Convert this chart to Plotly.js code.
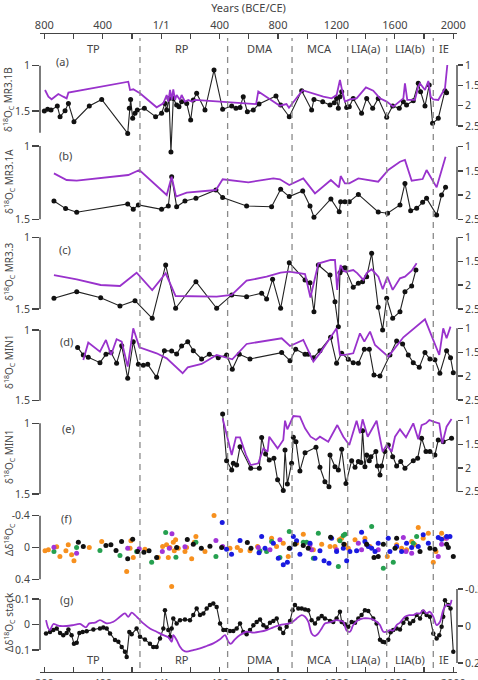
<!DOCTYPE html>
<html><head><meta charset="utf-8">
<script src="https://cdn.plot.ly/plotly-3.0.1.min.js"></script>
<style>html,body{margin:0;padding:0;background:#fff}#chart{width:478px;height:680px}</style>
</head><body><div id="chart"></div>
<script>
// ---------- DATA ----------
const xTickVals = [-800,-400,0,400,800,1200,1600,2000];
const xTickText = ['800','400','1/1','400','800','1200','1600','2000'];
const xMinorVals = [-600,-200,200,600,1000,1400,1800];
const periodNames = ['TP','RP','DMA','MCA','LIA(a)','LIA(b)','IE'];
const periodCenters = [-464,140,677,1087,1402,1703,1938];
const periodBounds = [-145,455,896,1277,1544,1863];

// (a) MR3.1B
const aBlackYear = [-800,-777,-754,-711,-692,-658,-635,-597,-492,-407,-229,-218,-209,-195,-179,-163,-115,-38,3,26,38,54,67,83,106,122,140,175,202,220,243,300,362,421,483,512,540,562,590,631,670,786,818,877,962,1030,1046,1106,1156,1185,1201,1213,1224,1236,1270,1288,1315,1372,1407,1448,1486,1544,1585,1630,1658,1680,1726,1760,1776,1806,1835,1858,1897,1943,1954];
const aBlackVal = [1.50,1.48,1.49,1.445,1.563,1.497,1.416,1.618,1.445,1.372,1.747,1.471,1.372,1.581,1.526,1.489,1.471,1.563,1.526,1.416,1.489,1.361,1.953,1.361,1.434,1.453,1.397,1.416,1.60,1.379,1.305,1.489,1.048,1.482,1.445,1.471,1.46,1.342,1.508,1.489,1.423,1.335,1.434,1.563,1.276,1.489,1.372,1.397,1.434,1.408,1.361,1.471,1.342,1.287,1.46,1.453,1.361,1.526,1.361,1.471,1.361,1.57,1.445,1.471,1.397,1.434,1.386,1.195,1.287,1.445,1.214,1.636,1.581,1.276,1.298];
const aPurpleYear = [-795,-772,-750,-704,-670,-647,-635,-225,-213,-191,-145,-31,15,38,49,61,72,83,95,106,129,140,163,186,209,232,650,665,812,858,875,968,1110,1167,1201,1224,1236,1258,1293,1338,1402,1452,1498,1544,1589,1630,1658,1669,1685,1737,1760,1772,1806,1829,1845,1863,1897,1943,1959];
const aPurpleVal = [1.615,1.779,1.844,1.713,1.779,1.82,1.68,1.41,1.615,1.598,1.697,2.04,1.943,1.738,1.90,1.615,1.86,1.598,1.86,1.738,1.86,1.738,1.90,1.86,1.90,1.86,1.96,1.65,2.0,1.96,2.05,1.62,1.78,1.82,1.74,1.37,1.574,1.90,1.844,1.82,1.55,1.631,1.82,1.90,2.025,1.90,1.82,1.451,1.86,1.86,1.533,1.451,1.615,1.393,1.779,1.844,1.86,1.574,1.0];

// (b) MR3.1A
const bBlackYear = [-734,-654,-578,-229,-191,-156,3,49,72,106,163,238,375,421,585,756,818,877,969,1019,1046,1162,1219,1229,1258,1288,1350,1486,1550,1635,1669,1708,1749,1790,1817,1886,1920,1947];
const bBlackVal = [1.375,1.427,1.452,1.395,1.432,1.402,1.432,1.409,1.209,1.414,1.375,1.357,1.30,1.352,1.409,1.414,1.295,1.345,1.307,1.409,1.486,1.361,1.448,1.38,1.38,1.38,1.33,1.45,1.459,1.402,1.255,1.441,1.425,1.384,1.357,1.47,1.334,1.282];
const bPurpleYear = [-734,-647,-578,-225,-149,38,72,102,175,375,421,597,768,813,877,973,1053,1162,1217,1229,1258,1288,1350,1486,1555,1635,1669,1715,1790,1817,1886,1947];
const bPurpleVal = [1.551,1.688,1.702,1.585,1.482,1.998,1.619,2.032,1.95,1.895,1.674,1.736,1.654,1.674,1.791,1.654,1.964,1.688,1.84,1.606,1.757,1.757,1.654,1.723,1.482,1.31,1.275,1.702,1.668,1.482,1.84,1.206];

// (c) MR3.3
const cBlackYear = [-734,-578,-414,-282,-179,-61,31,99,238,380,483,585,688,722,763,818,877,985,1019,1046,1076,1156,1190,1213,1224,1236,1247,1258,1315,1350,1379,1407,1441,1486,1516,1544,1585,1635,1669,1715,1744];
const cBlackVal = [1.425,1.379,1.421,1.479,1.442,1.565,1.193,1.495,1.31,1.495,1.402,1.414,1.39,1.43,1.293,1.495,1.177,1.298,1.317,1.519,1.193,1.263,1.45,1.623,1.247,1.228,1.216,1.212,1.349,1.321,1.31,1.275,1.112,1.488,1.646,1.425,1.565,1.519,1.379,1.34,1.228];
const cPurpleYear = [-734,-578,-414,-282,-168,-61,31,99,380,483,585,722,818,877,985,1022,1076,1160,1190,1205,1215,1229,1247,1265,1315,1342,1384,1407,1441,1487,1517,1548,1585,1635,1669,1715,1749];
const cPurpleVal = [1.789,1.879,1.998,2.019,1.741,2.103,1.753,2.228,2.243,2.207,1.908,1.824,1.741,1.72,1.768,2.26,1.55,1.475,1.475,2.1,1.78,1.58,1.70,1.72,1.684,1.75,1.89,1.75,1.67,1.824,2.088,1.824,2.10,1.858,1.824,1.70,1.544];

// (d) MIN1
const dBlackYear = [-572,-533,-499,-419,-378,-343,-305,-270,-229,-191,-156,-122,-92,-31,22,72,106,140,182,220,277,330,391,448,487,535,608,825,882,921,985,1007,1042,1087,1160,1201,1236,1281,1315,1350,1391,1425,1457,1498,1566,1612,1653,1692,1726,1767,1806,1840,1874,1908,1954,1981,2000];
const dBlackVal = [1.123,1.177,1.193,1.231,1.172,1.16,1.236,1.111,1.342,1.083,1.243,1.25,1.243,1.335,1.146,1.149,1.17,1.113,1.083,1.146,1.205,1.172,1.196,1.177,1.278,1.172,1.205,1.16,1.217,1.137,1.172,1.172,1.196,1.146,1.052,1.235,1.165,1.207,1.231,1.236,1.137,1.137,1.318,1.325,1.177,1.078,1.099,1.177,1.231,1.264,1.16,1.205,1.21,1.306,1.146,1.196,1.302];
const dPurpleYear = [-533,-499,-419,-378,-343,-305,-270,-229,-191,-149,-31,38,147,182,277,380,487,585,825,882,973,1042,1087,1201,1224,1258,1315,1361,1391,1430,1464,1555,1658,1806,1904,1931,1954,1981];
const dPurpleVal = [1.662,1.30,1.488,1.244,1.558,1.23,1.279,1.802,1.0,1.397,1.523,1.628,1.941,1.816,1.746,1.558,1.649,1.328,1.209,1.37,1.244,1.697,1.523,1.0,1.558,1.558,1.523,1.105,1.279,1.07,1.349,1.593,1.188,0.812,1.558,1.0,1.209,0.965];

// (e) MIN1
const eBlackYear = [421,448,483,494,517,540,613,672,688,715,740,772,797,836,848,864,893,905,923,950,985,1060,1087,1121,1149,1156,1190,1213,1236,1265,1304,1327,1350,1368,1379,1395,1407,1425,1436,1470,1480,1498,1509,1532,1555,1585,1612,1640,1669,1726,1756,1783,1813,1840,1874,1897,1931,1988];
const eBlackVal = [0.934,1.264,1.33,1.283,1.295,1.165,1.318,1.318,1.101,1.217,1.259,1.248,1.40,1.476,1.189,1.429,1.283,1.099,1.13,1.337,1.208,1.17,1.311,1.413,1.448,1.224,1.307,1.33,1.184,1.425,1.264,1.311,1.271,1.278,1.052,1.307,1.224,1.264,1.236,1.20,1.302,1.366,1.302,1.20,1.153,1.236,1.302,1.271,1.318,1.264,1.248,1.106,1.20,1.20,1.224,1.118,1.13,1.106];
const ePurpleYear = [421,483,512,540,581,613,665,700,729,740,797,836,848,864,905,950,985,1023,1060,1087,1144,1206,1247,1288,1338,1361,1379,1414,1475,1516,1544,1578,1601,1635,1676,1726,1760,1783,1813,1836,1863,1904,1925,1954,1988];
const ePurpleVal = [0.951,1.725,1.352,1.352,1.725,1.937,1.901,1.585,1.655,1.338,1.585,1.408,1.0,1.183,0.901,0.915,1.162,1.338,1.408,1.338,1.444,1.092,1.338,1.514,1.0,1.268,0.972,1.338,1.0,1.655,1.514,1.655,1.338,1.183,1.352,1.056,1.394,1.092,1.056,0.986,1.021,1.056,1.479,1.127,0.965];

// (f) anomalies by record
const fOrangeYear = [-795,-772,-715,-693,-652,-636,-613,-597,-492,-407,-236,-213,-207,-191,-111,-20,10,37,49,60,72,83,90,99,117,163,174,209,227,238,300,362,471,521,544,608,660,756,790,836,870,927,973,1014,1042,1099,1156,1190,1219,1235,1258,1281,1327,1395,1429,1548,1612,1646,1680,1715,1737,1760,1794,1829,1863,1881,1920,1943];
const fOrangeVal = [0.042,0.029,-0.008,0.113,0.042,-0.034,0.092,0.168,0,-0.075,0.302,0.008,-0.084,0.126,0.021,0.126,-0.013,-0.034,0.126,0,0.49,-0.067,0.042,-0.096,0.008,0.05,0,0.143,-0.067,-0.138,0.05,-0.403,0.008,0,0.038,0.042,-0.013,-0.117,-0.013,-0.055,0.113,-0.055,-0.168,0,0.029,-0.042,-0.013,-0.013,-0.096,-0.117,-0.034,0.008,-0.096,-0.117,-0.013,0.113,-0.034,0.008,0.029,-0.075,-0.034,-0.252,-0.117,-0.18,0.184,0.05,-0.18,-0.117];
const fGreenYear = [-734,-579,-419,-282,-168,-65,31,101,238,375,676,722,756,813,877,973,996,1042,1076,1213,1224,1247,1258,1441,1521,1589,1726,1749];
const fGreenVal = [0.05,0,0.038,0.101,0.05,0.184,-0.189,0.122,-0.067,0.113,0.042,0.05,-0.075,0.126,-0.201,-0.067,-0.067,0.134,-0.18,0.239,-0.084,-0.151,-0.168,-0.264,0.26,0.184,-0.055,-0.138];
const fPurpleYear = [-734,-579,-229,-150,8,56,74,163,375,421,665,745,813,1019,1030,1201,1350,1372,1407,1486,1658,1676,1715,1897,1920,1954];
const fPurpleVal = [-0.004,0.071,0.008,0.017,0.05,0.008,-0.172,-0.008,-0.088,-0.013,0,0.029,-0.096,-0.034,0.029,0.029,-0.055,0.029,-0.034,0.029,-0.126,0.05,0.071,0.113,-0.042,-0.117];
const fBlueYear = [418,448,482,540,670,688,711,768,802,836,864,882,905,927,950,1019,1053,1087,1115,1149,1167,1201,1247,1270,1292,1338,1372,1395,1418,1441,1464,1486,1555,1566,1612,1646,1680,1715,1760,1794,1829,1897,1920,1954,1977];
const fBlueVal = [-0.314,0.021,0.084,-0.088,0.067,-0.138,0.008,-0.055,0.134,0.218,0.184,0.008,-0.138,-0.084,0.084,-0.055,0.134,0.042,0.168,0.197,-0.117,0.05,0.008,0.168,0.05,0.042,-0.193,-0.075,-0.013,0.008,0.05,-0.055,-0.117,0.05,-0.013,0.05,-0.055,0,-0.013,-0.159,-0.055,-0.126,-0.105,-0.138,-0.138];
const fBlackYear = [-567,-533,-378,-344,-309,-271,-229,-195,-161,-118,-83,-31,106,179,220,275,334,414,590,615,877,916,973,1007,1160,1251,1407,1457,1486,1521,1601,1612,1772,1840,1874,1954,1966,2000];
const fBlackVal = [-0.067,-0.013,-0.025,-0.034,0.038,-0.075,0.143,-0.105,0.05,0.059,0.042,0.126,0,-0.101,-0.042,0.008,-0.017,0,-0.063,0.008,0.008,-0.042,-0.025,0.008,-0.13,-0.042,-0.042,0.126,0.113,-0.042,0.008,-0.117,0.05,0.008,0.021,-0.042,0,0.113];

// (g) stack
const gBlackYear = [-788,-761,-738,-715,-692,-670,-647,-635,-613,-597,
 -578,-560,-537,-510,-464,-419,-396,-373,-350,-316,
 -293,-270,-248,-236,-218,-202,-168,-145,-111,-77,
 -54,-31,-8,15,26,49,61,72,83,106,
 129,163,197,220,243,266,289,312,334,357,
 380,403,426,448,471,494,517,540,562,585,
 608,631,654,677,700,722,745,768,791,813,
 836,859,882,900,916,939,962,985,1007,1030,
 1053,1076,1099,1121,1156,1178,1201,1224,1236,1258,
 1281,1304,1327,1350,1372,1395,1418,1452,1475,1498,
 1516,1532,1555,1571,1589,1612,1635,1658,1680,1703,
 1726,1749,1772,1794,1817,1840,1863,1886,1904,1920,
 1931,1943,1966,1981,2000];
const gBlackVal = [0.035,0.029,0.022,0.016,0.033,0.042,0.033,0.02,0.042,0.075,
 0.072,0.033,0.029,0.026,0.02,0.016,0.012,0.016,0.035,0.061,
 0.068,0.088,0.107,0.127,0.029,0.038,0.016,0.048,0.059,0.075,
 0.088,0.088,0.055,0.016,-0.056,0.022,0.048,0.016,-0.024,-0.004,
 -0.017,-0.02,-0.017,-0.037,-0.063,-0.037,-0.043,-0.063,-0.076,-0.082,
 -0.069,-0.004,0.022,0.022,0.025,0.025,0.016,-0.004,0.029,0.038,
 0.022,0.003,-0.01,-0.02,0.003,0.012,-0.007,-0.014,-0.024,0.016,
 0.033,0.009,-0.014,-0.056,-0.076,-0.063,-0.063,-0.059,-0.056,-0.017,
 -0.004,-0.024,-0.033,-0.024,-0.014,-0.01,-0.024,-0.05,-0.01,-0.001,
 0.009,-0.01,-0.007,-0.024,-0.037,-0.056,-0.053,-0.024,-0.004,0.06,
 0.068,0.07,0.06,0.03,0.022,0.016,0.02,-0.007,-0.024,-0.004,
 -0.014,-0.037,-0.024,-0.05,-0.037,-0.03,0.035,0.055,0.042,0.009,
 -0.03,-0.095,-0.076,-0.063,0.107];
const gPurpleYear = [-788,-772,-761,-738,-715,-692,-647,-601,-556,-515,
 -492,-453,-419,-373,-327,-282,-248,-225,-202,-179,
 -156,-122,-77,-31,15,49,72,83,106,129,
 152,175,220,266,312,357,403,437,460,476,
 505,540,585,631,677,722,768,813,859,893,
 928,962,985,1007,1030,1053,1076,1099,1121,1144,
 1167,1201,1224,1247,1270,1293,1315,1350,1384,1418,
 1448,1475,1498,1521,1544,1566,1589,1612,1635,1669,
 1699,1726,1749,1772,1794,1817,1840,1863,1886,1909,
 1931,1954,1977,1988];
const gPurpleVal = [-0.032,0.013,0.022,-0.011,-0.005,0,0,-0.005,-0.011,0.007,
 -0.014,-0.018,-0.032,-0.014,-0.023,-0.05,-0.068,-0.05,-0.072,-0.059,
 -0.041,-0.014,0.013,0.031,0.049,0.061,0.085,0.049,0.076,0.112,
 0.133,0.139,0.13,0.121,0.108,0.094,0.072,0.049,0.085,0.097,
 0.072,0.049,0.031,0.036,0.031,0.022,0.007,-0.005,-0.011,-0.018,
 -0.041,-0.059,-0.05,-0.023,0.04,0.054,0.04,0.013,-0.014,-0.018,
 -0.023,-0.032,-0.029,-0.023,0.025,0.031,-0.005,-0.032,-0.041,-0.041,
 -0.036,-0.023,-0.005,0.031,0.031,0.022,0.025,-0.005,-0.018,-0.05,
 -0.059,-0.059,-0.068,-0.068,-0.086,-0.068,-0.077,-0.05,-0.005,-0.023,
 -0.086,-0.114,-0.114,-0.141];

// ---------- LAYOUT HELPERS ----------
const W = 478, H = 680, PL = 40, PR = 457, PT = 33, PB = 672;
const py2paper = p => (PB - p) / (PB - PT);
const px2paper = p => (p - PL) / (PR - PL);
const lin = (p1, v1, p2, v2) => p => v1 + (p - p1) * (v2 - v1) / (p2 - p1);
const AX = '#444', PURPLE = '#9932cc';
const FONT = 'Noto Sans, Open Sans, sans-serif';

const panels = [
  {top:40,  bot:160, L:[65.7,1,111,1.5],  R:[65,1,126,2.5],   Lline:[1,1.74], Rline:[1,2.5], Lt:[1,1.5], Ltx:['1','1.5'], Rt:[1,1.5,2,2.5], Rtx:['1','1.5','2','2.5']},
  {top:138, bot:228, L:[146,1,219.3,1.5], R:[146.7,1,219.3,2.5],Lline:[1,1.5], Rline:[1,2.5], Lt:[1,1.5], Ltx:['1','1.5'], Rt:[1,1.5,2,2.5], Rtx:['1','1.5','2','2.5']},
  {top:228, bot:335, L:[237.3,1,309,1.5], R:[237.3,1,309,2.5],Lline:[1,1.5], Rline:[1,2.5], Lt:[1,1.5], Ltx:['1','1.5'], Rt:[1,1.5,2,2.5], Rtx:['1','1.5','2','2.5']},
  {top:315, bot:405, L:[330,1,400.7,1.5], R:[328.3,1,400,2.5], Lline:[1,1.5], Rline:[1,2.5], Lt:[1,1.5], Ltx:['1','1.5'], Rt:[1,1.5,2,2.5], Rtx:['1','1.5','2','2.5']},
  {top:408, bot:500, L:[423.3,1,494,1.5], R:[420.7,1,491.7,2.5],Lline:[1,1.5], Rline:[1,2.5], Lt:[1,1.5], Ltx:['1','1.5'], Rt:[1,1.5,2,2.5], Rtx:['1','1.5','2','2.5']},
  {top:505, bot:595, L:[515.7,-0.4,579.3,0.4], R:null, Lline:[-0.4,0.4], Lt:[-0.4,0,0.4], Ltx:['-0.4','0','0.4']},
  {top:585, bot:672, L:[599,-0.1,650,0.1], R:[589,-0.2,663,0.2], Lline:[-0.1,0.1], Rline:[-0.2,0.2], Lt:[-0.1,0,0.1], Ltx:['-0.1','0','0.1'], Rt:[-0.2,0,0.2], Rtx:['-0.2','0','0.2']}
];

const xCommon = {
  range: [-829.4, 2025.3], anchor: 'free',
  tickmode: 'array', tickvals: xTickVals, ticktext: xTickText,
  ticks: 'inside', ticklen: 5, tickwidth: 1.2, tickcolor: AX,
  minor: {tickmode: 'array', tickvals: xMinorVals, ticks: 'inside', ticklen: 5, tickwidth: 1.2, tickcolor: AX, showgrid: false},
  showline: true, linecolor: AX, linewidth: 1.3,
  showgrid: false, zeroline: false, tickfont: {size: 11, color: AX}
};

const layout = {
  width: W, height: H,
  margin: {l: PL, r: W - PR, t: PT, b: H - PB, pad: 0},
  paper_bgcolor: '#fff', plot_bgcolor: 'rgba(0,0,0,0)',
  showlegend: false,
  font: {family: FONT, size: 11, color: AX},
  xaxis: Object.assign({}, xCommon, {side: 'top', position: 1,
    title: {text: 'Years (BCE/CE)', font: {size: 11, color: AX}, standoff: 2}}),
  xaxis2: Object.assign({}, xCommon, {overlaying: 'x', side: 'bottom', position: 0}),
  shapes: [], annotations: []
};

const axNames = [];
let n = 1;
panels.forEach((P, i) => {
  const fL = lin(...P.L);
  const left = 'yaxis' + (n === 1 ? '' : n), leftRef = 'y' + (n === 1 ? '' : n);
  layout[left] = {
    domain: [py2paper(P.bot), py2paper(P.top)], range: [fL(P.bot), fL(P.top)], anchor: 'x',
    showgrid: false, zeroline: false, showline: false,
    tickmode: 'array', tickvals: P.Lt, ticktext: P.Ltx,
    ticks: 'outside', ticklen: 7, tickwidth: 1.3, tickcolor: AX,
    tickfont: {size: 10.5, color: AX}
  };
  layout.shapes.push({type: 'line', xref: 'paper', x0: 0, x1: 0, yref: leftRef, y0: P.Lline[0], y1: P.Lline[1], line: {color: AX, width: 1.4}});
  const names = {L: leftRef};
  n++;
  if (P.R) {
    const fR = lin(...P.R);
    const right = 'yaxis' + n, rightRef = 'y' + n;
    layout[right] = {
      overlaying: leftRef, side: 'right', anchor: 'x', range: [fR(P.bot), fR(P.top)],
      showgrid: false, zeroline: false, showline: false,
      tickmode: 'array', tickvals: P.Rt, ticktext: P.Rtx,
      ticks: 'outside', ticklen: 5, tickwidth: 1.3, tickcolor: AX,
      tickfont: {size: 10.5, color: AX}
    };
    layout.shapes.push({type: 'line', xref: 'paper', x0: 1, x1: 1, yref: rightRef, y0: P.Rline[0], y1: P.Rline[1], line: {color: AX, width: 1.4}});
    names.R = rightRef;
    n++;
  }
  axNames.push(names);
});

// period boundaries
periodBounds.forEach(yr => layout.shapes.push({
  type: 'line', xref: 'x', x0: yr, x1: yr, yref: 'paper', y0: py2paper(668), y1: py2paper(38),
  line: {color: '#8a8a8a', width: 1.3, dash: '6px,5px'}
}));
// period labels top and bottom
periodNames.forEach((nm, i) => {
  [48, 659].forEach(p => layout.annotations.push({
    text: nm, xref: 'x', x: periodCenters[i], yref: 'paper', y: py2paper(p),
    showarrow: false, xanchor: 'center', yanchor: 'middle', font: {size: 11, color: AX}
  }));
});
// panel letters
const letters = [['(a)',62,62],['(b)',65,155],['(c)',65,249],['(d)',66,341],['(e)',68,428],['(f)',66,518],['(g)',66,599]];
letters.forEach(([t, x, y]) => layout.annotations.push({
  text: t, xref: 'paper', x: px2paper(x), yref: 'paper', y: py2paper(y),
  showarrow: false, xanchor: 'center', yanchor: 'middle', font: {size: 11, color: AX}
}));
// y titles
const yTitles = [
  ['δ<sup>18</sup>O<sub>C</sub> MR3.1B', 100],
  ['δ<sup>18</sup>O<sub>C</sub> MR3.1A', 182],
  ['δ<sup>18</sup>O<sub>C</sub> MR3.3', 272],
  ['δ<sup>18</sup>O<sub>C</sub> MIN1', 362],
  ['δ<sup>18</sup>O<sub>C</sub> MIN1', 457],
  ['Δδ<sup>18</sup>O<sub>C</sub>', 540],
  ['Δδ<sup>18</sup>O<sub>C</sub> stack', 622]
];
yTitles.forEach(([t, y]) => layout.annotations.push({
  text: t, textangle: -90, xref: 'paper', x: px2paper(9), yref: 'paper', y: py2paper(y),
  showarrow: false, xanchor: 'center', yanchor: 'middle', font: {size: 10, color: AX}
}));

// ---------- TRACES ----------
const traces = [];
const blackLine = (x, y, yref, ms) => ({x, y, xaxis: 'x', yaxis: yref, type: 'scatter', mode: 'lines+markers',
  line: {color: '#222', width: 1.1}, marker: {color: '#111', size: ms || 5}});
const purpleLine = (x, y, yref, spline) => ({x, y, xaxis: 'x', yaxis: yref, type: 'scatter', mode: 'lines',
  line: {color: PURPLE, width: 1.8, shape: spline ? 'spline' : 'linear', smoothing: 0.9}});

const series = [
  [aBlackYear, aBlackVal, aPurpleYear, aPurpleVal],
  [bBlackYear, bBlackVal, bPurpleYear, bPurpleVal],
  [cBlackYear, cBlackVal, cPurpleYear, cPurpleVal],
  [dBlackYear, dBlackVal, dPurpleYear, dPurpleVal],
  [eBlackYear, eBlackVal, ePurpleYear, ePurpleVal]
];
series.forEach((s, i) => {
  traces.push(purpleLine(s[2], s[3], axNames[i].R));
  traces.push(blackLine(s[0], s[1], axNames[i].L));
});
const fSets = [
  [fOrangeYear, fOrangeVal, '#f7901e'],
  [fGreenYear, fGreenVal, '#25a04f'],
  [fPurpleYear, fPurpleVal, '#a234d8'],
  [fBlueYear, fBlueVal, '#1a1ae0'],
  [fBlackYear, fBlackVal, '#111111']
];
fSets.forEach(([x, y, c]) => traces.push({x, y, xaxis: 'x', yaxis: axNames[5].L, type: 'scatter', mode: 'markers',
  marker: {color: c, size: 5}}));
traces.push(purpleLine(gPurpleYear, gPurpleVal, axNames[6].R, true));
traces.push(blackLine(gBlackYear, gBlackVal, axNames[6].L, 4.5));
// bottom axis host (no data)
traces.push({x: [], y: [], xaxis: 'x2', yaxis: axNames[6].L, type: 'scatter', mode: 'markers', hoverinfo: 'skip'});

Plotly.newPlot('chart', traces, layout, {displayModeBar: false, staticPlot: true});
</script></body></html>
